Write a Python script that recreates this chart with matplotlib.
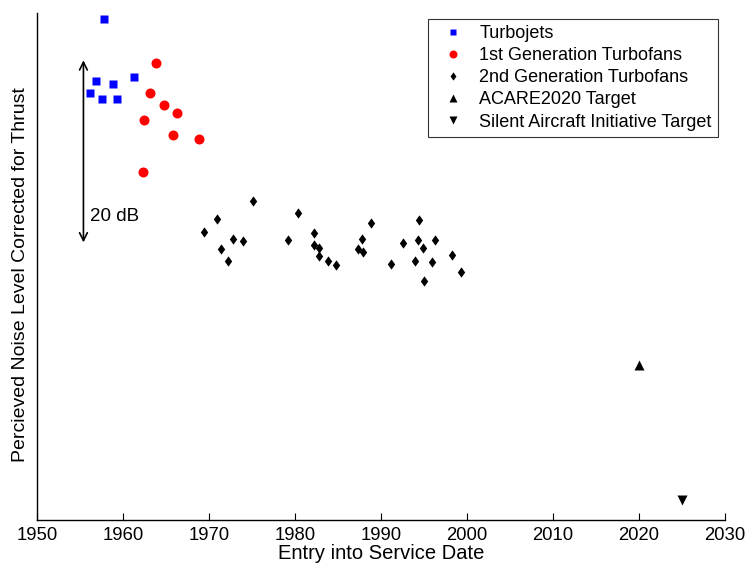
import numpy as np
import matplotlib
matplotlib.use("Agg")
import matplotlib.pyplot as plt

plt.rcParams['font.family'] = ['Liberation Sans', 'DejaVu Sans']

# entry into service year, relative perceived noise level (dB)
turbojet_year = [1957.8, 1956.9, 1958.8, 1961.3, 1956.2, 1957.6, 1959.3]
turbojet_db = [54.8, 48.0, 47.7, 48.5, 46.7, 46.0, 46.0]

gen1_year = [1963.8, 1963.1, 1964.8, 1966.3, 1962.4, 1965.8, 1968.8, 1962.3]
gen1_db = [50.0, 46.7, 45.4, 44.5, 43.7, 42.1, 41.7, 38.0]

gen2_year = [1969.4, 1970.9, 1971.4, 1972.2, 1972.8, 1974.0, 1975.1,
             1979.2, 1980.3, 1982.2, 1982.2, 1982.8, 1982.8, 1983.8, 1984.8,
             1988.8, 1987.8, 1987.3, 1987.9, 1991.2, 1992.6, 1993.9,
             1994.4, 1994.3, 1994.9, 1995.9, 1995.0, 1996.3, 1998.3, 1999.3]
gen2_db = [31.4, 32.9, 29.6, 28.3, 30.7, 30.4, 34.9,
           30.6, 33.5, 31.3, 30.0, 29.7, 28.8, 28.3, 27.8,
           32.4, 30.7, 29.6, 29.2, 27.9, 30.2, 28.3,
           32.8, 30.6, 29.7, 28.1, 26.1, 30.6, 28.9, 27.1]

acare_year = [2020]
acare_db = [16.8]
sai_year = [2025]
sai_db = [2.0]

# 20 dB scale bar
bar_year = 1955.4
bar_lo = 30.3
bar_span = 20

# matlab-style diamond, wider than matplotlib's thin 'd'
diamond = [(0, 1), (0.72, 0), (0, -1), (-0.72, 0), (0, 1)]

fig = plt.figure(figsize=(7.45, 5.65), dpi=100)
ax = fig.add_axes([37 / 745, 45 / 565, 688 / 745, 507 / 565])

ax.plot(turbojet_year, turbojet_db, 's', color='#0000ff', ms=5.8, mec='none',
        label='Turbojets')
ax.plot(gen1_year, gen1_db, 'o', color='#ff0000', ms=7.2, mec='none',
        label='1st Generation Turbofans')
ax.plot(gen2_year, gen2_db, marker=diamond, ls='none', color='black', ms=7.4,
        mec='none', label='2nd Generation Turbofans')
ax.plot(acare_year, acare_db, '^', color='black', ms=7, mec='none',
        label='ACARE2020 Target')
ax.plot(sai_year, sai_db, 'v', color='black', ms=7, mec='none',
        label='Silent Aircraft Initiative Target')

ax.annotate('', xy=(bar_year, bar_lo + bar_span), xytext=(bar_year, bar_lo),
            arrowprops=dict(arrowstyle='<->', color='black', lw=1.2,
                            mutation_scale=14, shrinkA=0, shrinkB=0))
ax.text(bar_year + 0.75, bar_lo + 2.8, '%d dB' % bar_span,
        fontsize=13.5, ha='left', va='center')

ax.set_xlim(1950, 2030)
ax.set_ylim(-0.2, 55.5)
ax.set_xticks(np.arange(1950, 2031, 10))
ax.set_yticks([])
ax.tick_params(axis='x', direction='in', length=5, width=0.8, labelsize=13.3, pad=5)
ax.spines['top'].set_visible(False)
ax.spines['right'].set_visible(False)
for s in ('left', 'bottom'):
    ax.spines[s].set_linewidth(1.0)

ax.set_xlabel('Entry into Service Date', fontsize=14.5, labelpad=0)
ax.set_ylabel('Percieved Noise Level Corrected for Thrust', fontsize=14)
ax.yaxis.set_label_coords(-0.0116, 0.485)

leg = ax.legend(loc='upper right', bbox_to_anchor=(718 / 745, 1 - 19 / 565),
                bbox_transform=fig.transFigure, fontsize=13,
                frameon=True, fancybox=False, edgecolor='black', markerscale=0.8,
                handlelength=2.1, handletextpad=0.4, labelspacing=0.28,
                borderpad=0.35, borderaxespad=0)
leg.get_frame().set_linewidth(0.8)

fig.savefig('out.png', dpi=100, facecolor='white')
